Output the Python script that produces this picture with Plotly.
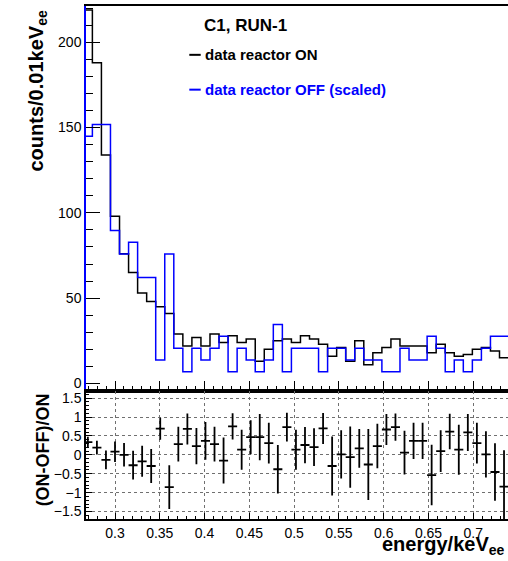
import plotly.graph_objects as go

# Histogram binning (energy in keVee)
BIN_LOW = 0.26465
BIN_WIDTH = 0.0101

# Reactor ON counts per bin
on_counts = [219, 188, 134, 98, 76, 65, 53, 48, 45, 41,
             29, 22, 27, 22, 29, 24, 28, 24, 26, 13,
             20, 25, 26, 24, 28, 26, 23, 16, 21, 13,
             25, 11, 18, 21, 26, 22, 22, 22, 18, 23,
             18, 16, 17, 20, 21, 19, 15]

# Reactor OFF raw counts per bin and the scale applied to them
off_counts = [21, 22, 22, 13, 11, 12, 9, 9, 2, 11,
              3, 1, 3, 2, 3, 4, 1, 3, 2, 1,
              2, 5, 1, 3, 3, 3, 1, 3, 3, 2,
              3, 2, 2, 1, 1, 3, 2, 2, 4, 3,
              1, 2, 1, 2, 3, 4, 4]
OFF_SCALE = 6.9

# Uncertainty on (ON-OFF)/ON per bin
ratio_err = [0.14, 0.18, 0.25, 0.27, 0.31, 0.38, 0.41, 0.45, 0.29, 0.58,
             0.46, 0.41, 0.48, 0.50, 0.46, 0.61, 0.35, 0.53, 0.45, 0.61,
             0.54, 0.64, 0.38, 0.53, 0.48, 0.50, 0.41, 0.78, 0.64, 0.81,
             0.51, 0.94, 0.59, 0.41, 0.36, 0.58, 0.48, 0.48, 0.80, 0.55,
             0.47, 0.66, 0.49, 0.54, 0.61, 0.76, 0.96]

nbins = len(on_counts)
edges = [BIN_LOW + BIN_WIDTH * i for i in range(nbins + 1)]
centers = [BIN_LOW + BIN_WIDTH * (i + 0.5) for i in range(nbins)]
off_scaled = [n * OFF_SCALE for n in off_counts]
ratio = [(a - b) / a for a, b in zip(on_counts, off_scaled)]

FONT = "Liberation Sans"
BLUE = "#0000ff"
GRID = "#707070"

fig = go.Figure()

# Upper pad: step histograms
fig.add_trace(go.Scatter(
    x=edges, y=on_counts + [on_counts[-1]], mode="lines",
    line=dict(shape="hv", color="black", width=1.5),
    xaxis="x", yaxis="y", hoverinfo="skip"))
fig.add_trace(go.Scatter(
    x=edges, y=off_scaled + [off_scaled[-1]], mode="lines",
    line=dict(shape="hv", color=BLUE, width=1.5),
    xaxis="x", yaxis="y", hoverinfo="skip"))

# Lower pad: relative difference with error bars
fig.add_trace(go.Scatter(
    x=centers, y=ratio, mode="markers",
    marker=dict(size=1, color="black"),
    error_y=dict(type="data", array=ratio_err, color="black", thickness=1.8, width=0),
    error_x=dict(type="constant", value=BIN_WIDTH / 2, color="black", thickness=1.8, width=0),
    xaxis="x2", yaxis="y2", hoverinfo="skip"))

XRANGE = [0.26763, 0.73874]
TOP_DOMAIN = [0.30303, 0.99109]
BOT_DOMAIN = [0.07308, 0.30303]
tickfont = dict(family=FONT, size=14, color="black")

fig.update_layout(
    width=508, height=561,
    margin=dict(l=86, r=0, t=0, b=0),
    paper_bgcolor="white", plot_bgcolor="white",
    showlegend=False,
    font=dict(family=FONT, color="black"),
    xaxis=dict(
        domain=[0, 1], anchor="y", range=XRANGE,
        tick0=0, dtick=0.05, ticks="inside", ticklen=10, tickcolor="black", tickwidth=1,
        minor=dict(dtick=0.01, ticks="inside", ticklen=5, tickcolor="black", tickwidth=1),
        showticklabels=False, showgrid=False, zeroline=False,
        showline=True, linecolor="black", linewidth=1.5, mirror=True),
    yaxis=dict(
        domain=TOP_DOMAIN, anchor="x", range=[-4.2, 221.3],
        tick0=0, dtick=50, ticks="inside", ticklen=14, tickcolor="black", tickwidth=1,
        minor=dict(dtick=10, ticks="inside", ticklen=7, tickcolor="black", tickwidth=1),
        tickfont=tickfont, showgrid=False, zeroline=False,
        showline=True, linecolor=BLUE, linewidth=1.5, mirror=False),
    xaxis2=dict(
        domain=[0, 1], anchor="y2", range=XRANGE,
        tick0=0, dtick=0.05, ticks="inside", ticklen=6, tickcolor="black", tickwidth=1,
        minor=dict(dtick=0.01, ticks="inside", ticklen=3, tickcolor="black", tickwidth=1),
        tickfont=tickfont, showgrid=True, gridcolor=GRID, griddash="dot", gridwidth=1,
        zeroline=False, showline=True, linecolor="black", linewidth=1.5, mirror=True),
    yaxis2=dict(
        domain=BOT_DOMAIN, anchor="x2", range=[-1.7, 1.7],
        tick0=0, dtick=0.5, ticks="inside", ticklen=6, tickcolor="black", tickwidth=1,
        minor=dict(dtick=0.1, ticks="inside", ticklen=3, tickcolor="black", tickwidth=1),
        tickfont=tickfont, showgrid=True, gridcolor=GRID, griddash="dot", gridwidth=1,
        zeroline=False, showline=True, linecolor="black", linewidth=1.5, mirror=False),
)

# Legend entries
fig.add_shape(type="line", xref="paper", yref="paper",
              x0=0.2448, x1=0.2718, y0=0.9037, y1=0.9037,
              line=dict(color="black", width=2))
fig.add_shape(type="line", xref="paper", yref="paper",
              x0=0.2448, x1=0.2718, y0=0.8414, y1=0.8414,
              line=dict(color=BLUE, width=2))

annots = [
    dict(text="<b>C1, RUN-1</b>", x=0.2742, y=0.9554, xanchor="left", yanchor="middle",
         font=dict(family=FONT, size=17, color="black")),
    dict(text="<b>data reactor ON</b>", x=0.278, y=0.9037, xanchor="left", yanchor="middle",
         font=dict(family=FONT, size=15, color="black")),
    dict(text="<b>data reactor OFF (scaled)</b>", x=0.278, y=0.8414, xanchor="left", yanchor="middle",
         font=dict(family=FONT, size=15, color=BLUE)),
    dict(text="<b>counts/0.01keV<sub>ee</sub></b>", x=-0.1161, y=0.9857, textangle=-90,
         xanchor="center", yanchor="top", font=dict(family=FONT, size=20, color="black")),
    dict(text="<b>(ON-OFF)/ON</b>", x=-0.1019, y=0.1979, textangle=-90,
         xanchor="center", yanchor="middle", font=dict(family=FONT, size=18, color="black")),
    dict(text="<b>energy/keV<sub>ee</sub></b>", x=0.9976, y=0.0,
         xanchor="right", yanchor="bottom", font=dict(family=FONT, size=20, color="black")),
]
for a in annots:
    fig.add_annotation(xref="paper", yref="paper", showarrow=False, **a)

fig.write_html("out.html")
